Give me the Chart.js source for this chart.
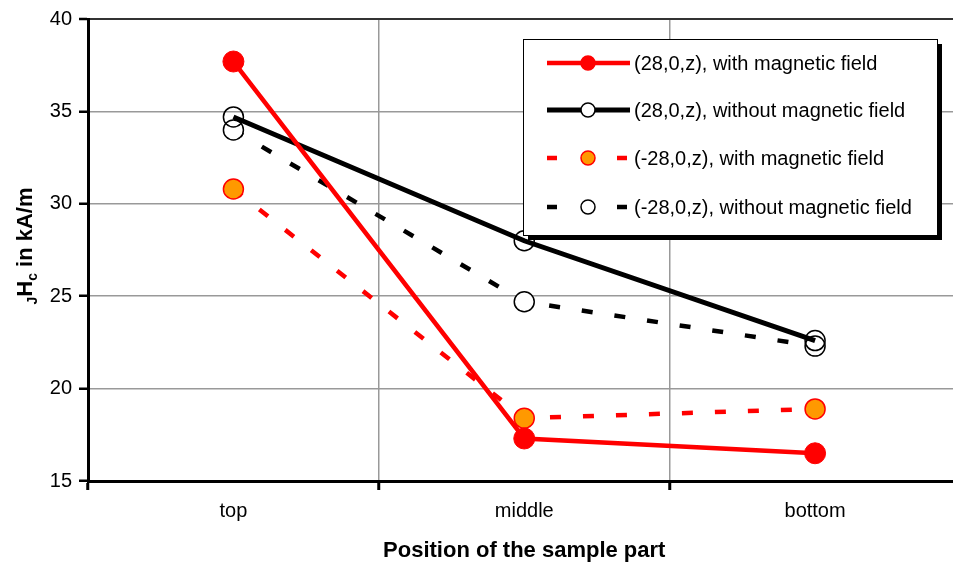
<!DOCTYPE html>
<html>
<head>
<meta charset="utf-8">
<script src="https://cdn.jsdelivr.net/npm/chart.js@4.4.0/dist/chart.umd.min.js"></script>
<style>
  html, body { margin: 0; padding: 0; overflow: hidden; background: #fff; }
  #myChart { display: block; width: 972px; height: 566px; }
</style>
</head>
<body>
<canvas id="myChart" width="972" height="566"></canvas>
<script>
var positions = ['top', 'middle', 'bottom'];

var withField28 = [37.7, 17.3, 16.5];
var withoutField28 = [34.7, 28.0, 22.6];
var withFieldMinus28 = [30.8, 18.4, 18.9];
var withoutFieldMinus28 = [34.0, 24.7, 22.3];

var seriesNames = [
    '(28,0,z), with magnetic field',
    '(28,0,z), without magnetic field',
    '(-28,0,z), with magnetic field',
    '(-28,0,z), without magnetic field'
];

var yTicks = [15, 20, 25, 30, 35, 40];

var FONT = "'Liberation Sans', Arial, sans-serif";

// legend box drawn over the plot, like the Excel original
var legendBox = {
    id: 'legendBox',
    afterDraw: function (chart) {
        var ctx = chart.ctx;
        var x = 523, y = 39, w = 414, h = 196;
        ctx.save();
        ctx.fillStyle = '#000';
        ctx.fillRect(x + 5, y + 5, w, h);
        ctx.fillStyle = '#fff';
        ctx.fillRect(x, y, w, h);
        ctx.strokeStyle = '#000';
        ctx.lineWidth = 1;
        ctx.strokeRect(x + 0.5, y + 0.5, w, h);

        var rows = [63, 110, 158, 207];
        chart.data.datasets.forEach(function (ds, i) {
            var ry = rows[i];
            ctx.beginPath();
            ctx.strokeStyle = ds.borderColor;
            ctx.lineWidth = ds.borderWidth;
            ctx.setLineDash(ds.borderDash ? [10, 60] : []);
            ctx.moveTo(547, ry);
            ctx.lineTo(630, ry);
            ctx.stroke();
            ctx.setLineDash([]);
            ctx.beginPath();
            ctx.arc(588, ry, 7, 0, Math.PI * 2);
            ctx.fillStyle = ds.legendFill;
            ctx.fill();
            ctx.lineWidth = 1.5;
            ctx.strokeStyle = ds.pointBorderColor;
            ctx.stroke();

            ctx.fillStyle = '#000';
            ctx.font = '20px ' + FONT;
            ctx.textBaseline = 'middle';
            ctx.textAlign = 'left';
            ctx.fillText(seriesNames[i], 634, ry + 1);
        });
        ctx.restore();
    }
};

// y title with the J and c subscripts
var yTitle = {
    id: 'yTitle',
    afterDraw: function (chart) {
        var ctx = chart.ctx;
        var parts = [
            { t: 'J', size: 14, dy: 5 },
            { t: 'H', size: 22, dy: 0 },
            { t: 'c', size: 14, dy: 5 },
            { t: ' in kA/m', size: 22, dy: 0 }
        ];
        ctx.save();
        ctx.translate(32, 246);
        ctx.rotate(-Math.PI / 2);
        ctx.fillStyle = '#000';
        ctx.textBaseline = 'alphabetic';
        ctx.textAlign = 'left';
        var total = 0;
        parts.forEach(function (p) {
            ctx.font = 'bold ' + p.size + 'px ' + FONT;
            p.w = ctx.measureText(p.t).width;
            total += p.w;
        });
        var px = -total / 2;
        parts.forEach(function (p) {
            ctx.font = 'bold ' + p.size + 'px ' + FONT;
            ctx.fillText(p.t, px, p.dy);
            px += p.w;
        });
        ctx.restore();
    }
};

var ctx = document.getElementById('myChart').getContext('2d');
var hcChart = new Chart(ctx, {
    type: 'line',
    data: {
        labels: positions,
        datasets: [{
            label: seriesNames[0],
            data: withField28,
            borderColor: '#ff0000',
            borderWidth: 4.5,
            pointRadius: 10.5,
            pointBorderWidth: 1,
            pointBackgroundColor: '#ff0000',
            pointBorderColor: '#ff0000',
            legendFill: '#ff0000'
        }, {
            label: seriesNames[1],
            data: withoutField28,
            borderColor: '#000000',
            borderWidth: 5,
            pointRadius: 10,
            pointBorderWidth: 1.5,
            pointBackgroundColor: 'rgba(255,255,255,0)',
            pointBorderColor: '#000000',
            legendFill: '#ffffff'
        }, {
            label: seriesNames[2],
            data: withFieldMinus28,
            borderColor: '#ff0000',
            borderWidth: 4.5,
            borderDash: [11, 22],
            pointRadius: 10,
            pointBorderWidth: 1.5,
            pointBackgroundColor: '#ff9900',
            pointBorderColor: '#ff0000',
            legendFill: '#ff9900'
        }, {
            label: seriesNames[3],
            data: withoutFieldMinus28,
            borderColor: '#000000',
            borderWidth: 4.5,
            borderDash: [11, 22],
            pointRadius: 10,
            pointBorderWidth: 1.5,
            pointBackgroundColor: '#ffffff',
            pointBorderColor: '#000000',
            legendFill: '#ffffff'
        }]
    },
    options: {
        responsive: false,
        animation: false,
        layout: {
            padding: { top: 16, left: 0, right: 0, bottom: 0 }
        },
        plugins: {
            legend: { display: false },
            tooltip: { enabled: false }
        },
        scales: {
            x: {
                type: 'category',
                offset: true,
                grid: {
                    offset: true,
                    color: '#999999',
                    lineWidth: 1.5,
                    tickColor: '#000000',
                    tickLength: 9,
                    tickWidth: 3
                },
                border: { color: '#000000', width: 3 },
                ticks: {
                    color: '#000',
                    font: { family: FONT, size: 20 },
                    padding: 9
                },
                title: {
                    display: true,
                    text: 'Position of the sample part',
                    color: '#000',
                    font: { family: FONT, size: 22, weight: 'bold' },
                    padding: { top: 4, bottom: 2 }
                },
                afterFit: function (scale) { scale.height = 85; }
            },
            y: {
                min: 15,
                max: 40,
                afterBuildTicks: function (scale) {
                    scale.ticks = yTicks.map(function (v) { return { value: v }; });
                },
                grid: {
                    color: function (c) { return c.tick && c.tick.value === 40 ? '#333333' : '#999999'; },
                    lineWidth: function (c) { return c.tick && c.tick.value === 40 ? 2 : 1.5; },
                    tickColor: '#000000',
                    tickLength: 9,
                    tickWidth: 2.5
                },
                border: { color: '#000000', width: 3 },
                ticks: {
                    color: '#000',
                    font: { family: FONT, size: 20 },
                    padding: 7
                },
                afterFit: function (scale) { scale.width = 88; }
            }
        }
    },
    plugins: [yTitle, legendBox]
});
</script>
</body>
</html>
